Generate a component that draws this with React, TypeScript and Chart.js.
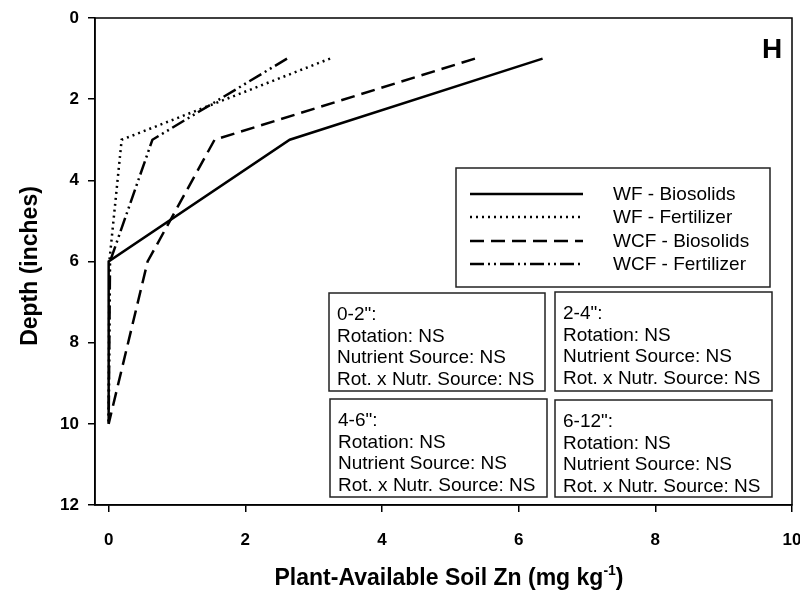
import React, { useEffect, useRef } from "react";
import { Chart, registerables } from "chart.js";

Chart.register(...registerables);

const depths = [1, 3, 6, 10];
const seriesLabels = ["WF - Biosolids", "WF - Fertilizer", "WCF - Biosolids", "WCF - Fertilizer"];
const wfBiosolids = [6.35, 2.65, 0, 0];
const wfFertilizer = [3.24, 0.19, 0.01, 0];
const wcfBiosolids = [5.36, 1.55, 0.57, 0];
const wcfFertilizer = [2.61, 0.64, 0.02, 0];
const xTickValues = [0, 2, 4, 6, 8, 10];
const yTickValues = [0, 2, 4, 6, 8, 10, 12];
const statLabels = ['0-2":', '2-4":', '4-6":', '6-12":'];
const statLines = ["Rotation: NS", "Nutrient Source: NS", "Rot. x Nutr. Source: NS"];
const xTitleMain = "Plant-Available Soil Zn (mg kg";
const xTitleSup = "-1";
const xTitleEnd = ")";
const yTitle = "Depth (inches)";
const panelLetter = "H";

const FONT = "'Liberation Sans', Arial, sans-serif";
const dashes: number[][] = [[], [2, 4], [14, 7], [14, 4, 2, 4, 2, 4]];

const decorPlugin = {
  id: "decor",
  afterDraw(chart: any) {
    const ctx = chart.ctx as CanvasRenderingContext2D;
    const a = chart.chartArea;
    ctx.save();
    // frame
    ctx.strokeStyle = "#000";
    ctx.lineWidth = 1.5;
    ctx.strokeRect(a.left, a.top, a.right - a.left, a.bottom - a.top);

    // panel letter
    ctx.fillStyle = "#000";
    ctx.font = `bold 28px ${FONT}`;
    ctx.textAlign = "center";
    ctx.textBaseline = "alphabetic";
    ctx.fillText(panelLetter, 772, 58);

    // legend
    const lb = { l: 456, t: 168, r: 770, b: 287 };
    ctx.fillStyle = "#fff";
    ctx.fillRect(lb.l, lb.t, lb.r - lb.l, lb.b - lb.t);
    ctx.strokeStyle = "#222";
    ctx.lineWidth = 1.5;
    ctx.strokeRect(lb.l, lb.t, lb.r - lb.l, lb.b - lb.t);
    const rows = [194, 217, 241, 264];
    chart.data.datasets.forEach((ds: any, i: number) => {
      ctx.save();
      ctx.strokeStyle = "#000";
      ctx.lineWidth = 2.5;
      ctx.setLineDash(ds.borderDash || []);
      ctx.beginPath();
      ctx.moveTo(470, rows[i]);
      ctx.lineTo(583, rows[i]);
      ctx.stroke();
      ctx.restore();
      ctx.fillStyle = "#000";
      ctx.font = `19px ${FONT}`;
      ctx.textAlign = "left";
      ctx.textBaseline = "middle";
      ctx.fillText(ds.label, 613, rows[i] + 1);
    });

    // stats boxes
    const boxes = [
      { l: 329, t: 293, r: 545, b: 391 },
      { l: 555, t: 292, r: 772, b: 391 },
      { l: 330, t: 399, r: 547, b: 497 },
      { l: 555, t: 400, r: 772, b: 497 },
    ];
    const offs = [27, 49, 70, 92];
    boxes.forEach((bx, i) => {
      ctx.fillStyle = "#fff";
      ctx.fillRect(bx.l, bx.t, bx.r - bx.l, bx.b - bx.t);
      ctx.strokeStyle = "#222";
      ctx.lineWidth = 1.5;
      ctx.strokeRect(bx.l, bx.t, bx.r - bx.l, bx.b - bx.t);
      ctx.fillStyle = "#000";
      ctx.font = `19px ${FONT}`;
      ctx.textAlign = "left";
      ctx.textBaseline = "alphabetic";
      const lines = [statLabels[i], ...statLines];
      lines.forEach((s, j) => ctx.fillText(s, bx.l + 8, bx.t + offs[j]));
    });

    // x title with superscript
    ctx.fillStyle = "#000";
    ctx.textAlign = "left";
    ctx.textBaseline = "alphabetic";
    const mainFont = `bold 23px ${FONT}`;
    const supFont = `bold 14px ${FONT}`;
    ctx.font = mainFont;
    const w1 = ctx.measureText(xTitleMain).width;
    const w3 = ctx.measureText(xTitleEnd).width;
    ctx.font = supFont;
    const w2 = ctx.measureText(xTitleSup).width;
    const cx = 449;
    let x = cx - (w1 + w2 + w3) / 2;
    const base = 585;
    ctx.font = mainFont;
    ctx.fillText(xTitleMain, x, base);
    x += w1;
    ctx.font = supFont;
    ctx.fillText(xTitleSup, x, base - 10);
    x += w2;
    ctx.font = mainFont;
    ctx.fillText(xTitleEnd, x, base);

    // y title
    ctx.save();
    ctx.translate(37, 266);
    ctx.rotate(-Math.PI / 2);
    ctx.textAlign = "center";
    ctx.font = mainFont;
    ctx.fillText(yTitle, 0, 0);
    ctx.restore();

    ctx.restore();
  },
};

export default function App() {
  const ref = useRef<HTMLCanvasElement | null>(null);
  useEffect(() => {
    if (!ref.current) return;
    const series = [wfBiosolids, wfFertilizer, wcfBiosolids, wcfFertilizer];
    const chart = new Chart(ref.current, {
      type: "line",
      data: {
        datasets: series.map((vals, i) => ({
          label: seriesLabels[i],
          data: vals.map((v, k) => ({ x: v, y: depths[k] })),
          borderColor: "#000",
          borderWidth: 2.5,
          borderDash: dashes[i],
          pointRadius: 0,
          fill: false,
          tension: 0,
        })),
      },
      options: {
        animation: false,
        responsive: false,
        devicePixelRatio: 1,
        layout: { padding: { top: 18, right: 18, left: 0, bottom: 0 } },
        plugins: { legend: { display: false }, tooltip: { enabled: false } },
        scales: {
          x: {
            type: "linear",
            min: -0.2,
            max: 10,
            afterBuildTicks: (s: any) => {
              s.ticks = xTickValues.map((v) => ({ value: v }));
            },
            afterFit: (s: any) => {
              s.height = 90;
              s.paddingLeft = 0;
              s.paddingRight = 0;
            },
            border: { display: true, color: "#000", width: 1.5 },
            grid: { display: true, drawOnChartArea: false, drawTicks: true, tickLength: 7, color: "#000", lineWidth: 1.5 },
            ticks: { color: "#000", padding: 18, font: { family: FONT, size: 17, weight: "bold" }, maxRotation: 0 },
          },
          y: {
            type: "linear",
            reverse: true,
            min: 0,
            max: 12,
            afterBuildTicks: (s: any) => {
              s.ticks = yTickValues.map((v) => ({ value: v }));
            },
            afterFit: (s: any) => {
              s.width = 95;
              s.paddingTop = 0;
              s.paddingBottom = 0;
            },
            border: { display: true, color: "#000", width: 1.5 },
            grid: { display: true, drawOnChartArea: false, drawTicks: true, tickLength: 7, color: "#000", lineWidth: 1.5 },
            ticks: { color: "#000", padding: 9, font: { family: FONT, size: 17, weight: "bold" } },
          },
        },
      } as any,
      plugins: [decorPlugin],
    });
    return () => chart.destroy();
  }, []);
  return (
    <div style={{ position: "absolute", left: 0, top: 0, width: 800, height: 595, overflow: "hidden", background: "#fff" }}>
      <canvas ref={ref} width={810} height={595} style={{ width: 810, height: 595, display: "block" }} />
    </div>
  );
}
